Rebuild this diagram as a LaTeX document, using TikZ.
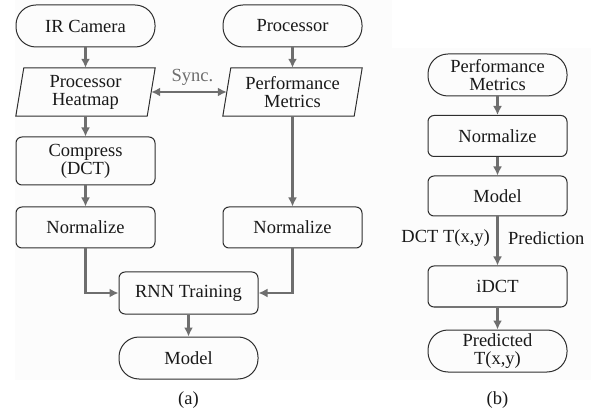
\documentclass[tikz,border=0pt]{standalone}
\usepackage{fontspec}
\setmainfont{Liberation Serif}
\usetikzlibrary{arrows.meta}
\definecolor{arr}{HTML}{6E6E6E}
\definecolor{edge}{HTML}{2E2E2E}
\definecolor{bgl}{HTML}{FCFCFC}
\begin{document}
\begin{tikzpicture}[x=1pt,y=-1pt,
  txt/.style={font=\fontsize{18.5}{18}\selectfont, align=center, inner sep=0pt, text=black!90},
  stadium/.style={txt, draw=edge, line width=1pt, rounded corners=20pt, minimum width=139pt, minimum height=42pt},
  rbox/.style={txt, draw=edge, line width=1pt, rounded corners=6pt, minimum width=139pt, minimum height=41pt},
  para/.style={txt, minimum width=139pt, minimum height=48pt},
  flow/.style={draw=arr, line width=2.8pt, -{Latex[length=9pt,width=9pt]}},
  flowb/.style={draw=arr, line width=2.8pt, {Latex[length=9pt,width=9pt]}-{Latex[length=9pt,width=9pt]}},
  lab/.style={txt}
]
\useasboundingbox (0,0) rectangle (591,411);
\fill[bgl] (15,0) rectangle (392,380);
\fill[bgl] (392,48) rectangle (591,380);

% panel (a)
\node[stadium] (ir) at (85.5,26) {IR Camera};
\node[stadium] (proc) at (292.5,26) {Processor};
\node[para] (ph) at (85.5,92) {Processor\\Heatmap};
\node[para] (pm) at (292.5,92) {Performance\\Metrics};
\draw[edge, line width=1pt] ([xshift=8pt]ph.north west) -- (ph.north east) -- ([xshift=-8pt]ph.south east) -- (ph.south west) -- cycle;
\draw[edge, line width=1pt] ([xshift=8pt]pm.north west) -- (pm.north east) -- ([xshift=-8pt]pm.south east) -- (pm.south west) -- cycle;
\node[rbox, minimum height=48pt] (cmp) at (85.5,161) {Compress\\(DCT)};
\node[rbox] (nl) at (85.5,227.5) {Normalize};
\node[rbox] (nr) at (292.5,227.5) {Normalize};
\node[rbox, minimum height=42pt] (rnn) at (188.5,293) {RNN Training};
\node[stadium] (mdl) at (188.5,358) {Model};
\node[lab] (la) at (188.5,400) {(a)};

\draw[flow] (ir) -- (ph);
\draw[flow] (proc) -- (pm);
\draw[flow] (ph) -- (cmp);
\draw[flow] (cmp) -- (nl);
\draw[flow] (pm) -- (nr);
\draw[flow] (nl.south) |- (rnn.west);
\draw[flow] (nr.south) |- (rnn.east);
\draw[flow] (rnn) -- (mdl);
\draw[flowb] ([xshift=-4pt]ph.east) -- ([xshift=4pt]pm.west);
\node[lab, text=arr] (sync) at (192.5,77) {Sync.};

% panel (b)
\node[stadium] (bpm) at (497.5,75) {Performance\\Metrics};
\node[rbox] (bn) at (497.5,136) {Normalize};
\node[rbox, minimum height=40pt] (bm) at (497.5,196) {Model};
\node[rbox] (bi) at (497.5,286.5) {iDCT};
\node[stadium] (bp) at (497.5,351) {Predicted\\T(x,y)};
\node[lab] (lb) at (497.5,400) {(b)};

\draw[flow] (bpm) -- (bn);
\draw[flow] (bn) -- (bm);
\draw[flow] (bm) -- (bi);
\draw[flow] (bi) -- (bp);
\node[lab, anchor=east] (dct) at (490,238.5) {DCT T(x,y)};
\node[lab, anchor=west] (pred) at (508,238.5) {Prediction};
\end{tikzpicture}
\end{document}
